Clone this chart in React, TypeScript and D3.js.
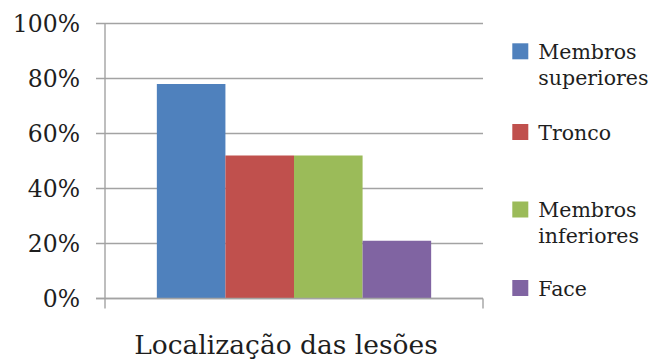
import React from "react";
import * as d3 from "d3";

const W = 656;
const H = 359;

const category = "Localização das lesões";
const seriesNames = ["Membros superiores", "Tronco", "Membros inferiores", "Face"];
const seriesValues = [0.78, 0.52, 0.52, 0.21];
const seriesColors = ["#4F81BD", "#C0504D", "#9BBB59", "#8064A2"];
const legendLines = [["Membros", "superiores"], ["Tronco"], ["Membros", "inferiores"], ["Face"]];
const yTicks = [0, 0.2, 0.4, 0.6, 0.8, 1.0];

const plot = { left: 105, right: 483, top: 23.5, bottom: 298.5 };
const FONT = "DejaVu Serif";
const TEXT = "#1e1e1e";
const GRID = "#a3a3a3";

export default function App() {
  const y = d3.scaleLinear().domain([0, 1]).range([plot.bottom, plot.top]);
  const x0 = d3
    .scaleBand<string>()
    .domain([category])
    .range([plot.left, plot.right])
    .paddingInner(0)
    .paddingOuter(0.189);
  const x1 = d3
    .scaleBand<string>()
    .domain(seriesNames)
    .range([0, x0.bandwidth()])
    .padding(0);
  const fmt = d3.format(".0%");

  const legendY = [51.3, 132, 209.5, 288];

  return (
    <svg
      width={W}
      height={H}
      style={{ position: "absolute", left: 0, top: 0, background: "#fff" }}
    >
      {/* gridlines with their left tick stubs */}
      {yTicks.map((t) => (
        <line
          key={"g" + t}
          x1={plot.left - 9}
          x2={plot.right}
          y1={y(t)}
          y2={y(t)}
          stroke={GRID}
          strokeWidth={1.4}
        />
      ))}
      {/* value axis */}
      <line x1={plot.left} x2={plot.left} y1={y(1)} y2={plot.bottom + 10} stroke={GRID} strokeWidth={1.4} />
      {/* category boundary tick on the right */}
      <line x1={plot.right} x2={plot.right} y1={plot.bottom} y2={plot.bottom + 10} stroke={GRID} strokeWidth={1.4} />

      {/* bars */}
      {seriesNames.map((s, i) => (
        <rect
          key={s}
          x={(x0(category) as number) + (x1(s) as number)}
          y={y(seriesValues[i])}
          width={x1.bandwidth()}
          height={y(0) - y(seriesValues[i])}
          fill={seriesColors[i]}
        />
      ))}
      <line x1={plot.left - 9} x2={plot.right} y1={y(0)} y2={y(0)} stroke={GRID} strokeWidth={1.4} />

      {/* y tick labels */}
      {yTicks.map((t) => (
        <text
          key={"l" + t}
          x={80}
          y={y(t) + 8.5}
          textAnchor="end"
          fill={TEXT}
          fontSize={23.5}
          style={{ fontFamily: FONT }}
        >
          {fmt(t)}
        </text>
      ))}

      {/* category label */}
      <text
        x={286}
        y={354}
        textAnchor="middle"
        fill={TEXT}
        fontSize={26.5}
        style={{ fontFamily: FONT }}
      >
        {category}
      </text>

      {/* legend */}
      {seriesNames.map((s, i) => (
        <g key={"lg" + s}>
          <rect x={512.3} y={legendY[i] - 8} width={16} height={16} fill={seriesColors[i]} />
          {legendLines[i].map((ln, j) => (
            <text
              key={ln}
              x={538.3}
              y={legendY[i] + 7.5 + j * 26}
              fill={TEXT}
              fontSize={20.5}
              style={{ fontFamily: FONT }}
            >
              {ln}
            </text>
          ))}
        </g>
      ))}
    </svg>
  );
}
